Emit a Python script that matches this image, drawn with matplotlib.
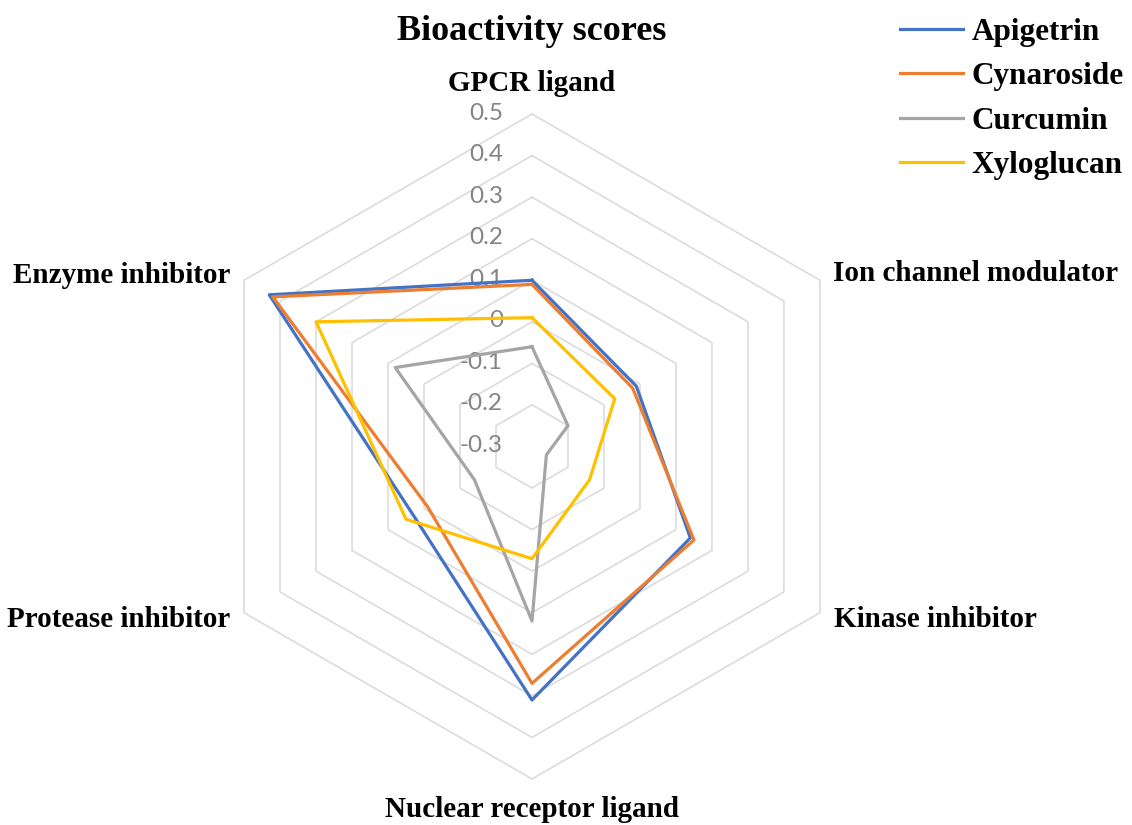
import numpy as np
import matplotlib
matplotlib.use("Agg")
import matplotlib.pyplot as plt

# bioactivity scores
categories = ["GPCR ligand", "Ion channel modulator", "Kinase inhibitor",
              "Nuclear receptor ligand", "Protease inhibitor", "Enzyme inhibitor"]
apigetrin = [0.10, -0.01, 0.14, 0.31, 0.03, 0.43]
cynaroside = [0.09, -0.02, 0.15, 0.27, -0.01, 0.42]
curcumin = [-0.06, -0.20, -0.26, 0.12, -0.14, 0.08]
xyloglucan = [0.01, -0.07, -0.14, -0.03, 0.05, 0.30]
series_names = ["Apigetrin", "Cynaroside", "Curcumin", "Xyloglucan"]
levels = [-0.3, -0.2, -0.1, 0, 0.1, 0.2, 0.3, 0.4, 0.5]
level_labels = ["-0.3", "-0.2", "-0.1", "0", "0.1", "0.2", "0.3", "0.4", "0.5"]

colors = ["#4472C4", "#ED7D31", "#A5A5A5", "#FFC000"]
serif = ["Liberation Serif", "DejaVu Serif"]

fig = plt.figure(figsize=(11.32, 8.25), dpi=100)
ax = fig.add_axes([0.1762, 0.0558, 0.5875, 0.806], polar=True)
ax.set_theta_offset(np.pi / 2)
ax.set_theta_direction(-1)
ax.set_ylim(levels[0], levels[-1])
ax.grid(False)
ax.spines["polar"].set_visible(False)
ax.set_xticks([])
ax.set_yticks([])
ax.patch.set_alpha(0)

n = len(categories)
theta = np.linspace(0, 2 * np.pi, n, endpoint=False)
theta_closed = np.append(theta, theta[0])

# hexagonal gridlines
for lv in levels[1:]:
    ax.plot(theta_closed, [lv] * (n + 1), color="#D9D9D9", lw=1.1, zorder=1,
            clip_on=False)

# radial tick labels along the top spoke
for lv, lab in zip(levels, level_labels):
    ax.annotate(lab, xy=(0, lv), xytext=(-29, 1), textcoords="offset pixels",
                ha="right", va="center", fontsize=17.5, color="#848484",
                family=["Lato", "DejaVu Sans"], zorder=2)

# series
for name, vals, c in zip(series_names, [apigetrin, cynaroside, curcumin, xyloglucan], colors):
    ax.plot(theta_closed, vals + vals[:1], color=c, lw=2.3, label=name, zorder=3,
            clip_on=False)

# category labels
offsets = [(0, 31, "center"), (13, 7, "left"), (14, -7, "left"),
           (0, -31, "center"), (-14, -7, "right"), (-14, 5, "right")]
for t, cat, (dx, dy, ha) in zip(theta, categories, offsets):
    ax.annotate(cat, xy=(t, levels[-1]), xytext=(dx, dy), textcoords="offset pixels",
                ha=ha, va="center", fontsize=21, fontweight="bold", family=serif,
                annotation_clip=False)

fig.text(0.470, 1 - 31 / 825, "Bioactivity scores", ha="center", va="center",
         fontsize=26, fontweight="bold", family=serif)

fig.legend(loc="upper left", bbox_to_anchor=(900 / 1132, 1 - 18 / 825),
           frameon=False, borderpad=0, borderaxespad=0, handlelength=2.0,
           handletextpad=0.3, labelspacing=0.49,
           prop={"family": serif, "weight": "bold", "size": 22.5})

fig.savefig("out.png", dpi=100)
